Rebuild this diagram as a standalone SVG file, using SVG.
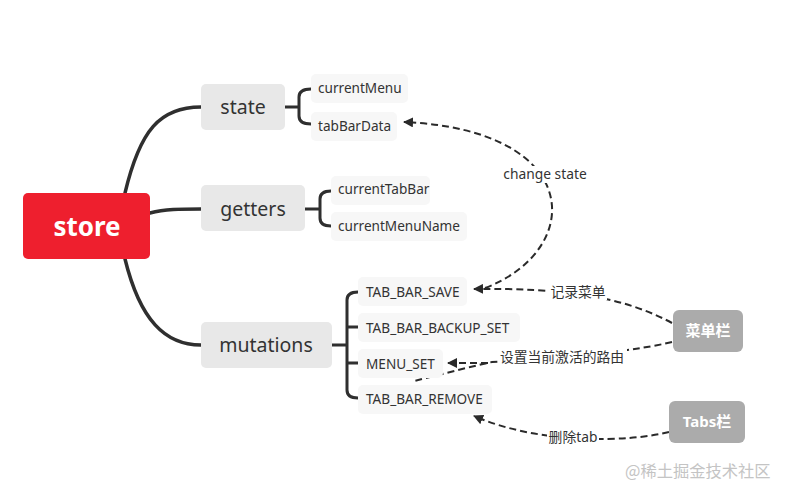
<svg xmlns="http://www.w3.org/2000/svg" width="787" height="496" viewBox="0 0 787 496">
<style>
.main{fill:#ee1f2e}
.topic{fill:#e8e8e8}
.leaf{fill:#f7f7f7}
.side{fill:#ababab}
.branch{fill:none;stroke:#2f2f2f;stroke-width:3.5;stroke-linecap:round}
.brk{fill:none;stroke:#2f2f2f;stroke-width:3;stroke-linecap:round;stroke-linejoin:round}
.rel{fill:none;stroke:#2a2a2a;stroke-width:2;stroke-dasharray:7 4}
.t-main{font-family:"Noto Sans","Open Sans",sans-serif;font-size:26px;font-weight:bold;fill:#fff;text-anchor:middle}
.t-topic{font-family:"Noto Sans","Open Sans",sans-serif;font-size:19.5px;fill:#333;text-anchor:middle}
.t-leaf{font-family:"Noto Sans","Open Sans",sans-serif;font-size:13.6px;fill:#333}
.t-side{font-family:"Noto Sans","Noto Sans CJK SC",sans-serif;font-size:15px;font-weight:bold;fill:#fff;text-anchor:middle}
.t-rel{font-family:"Noto Sans","Noto Sans CJK SC",sans-serif;font-size:13.8px;fill:#333;text-anchor:middle}
.lbg{fill:#fff}
.wm{font-family:"Noto Sans CJK SC",sans-serif;font-size:16.3px;fill:#c4c4c4}
</style>
<defs>
<marker id="arr" viewBox="0 0 10 10" refX="9" refY="5" markerWidth="5" markerHeight="5" orient="auto-start-reverse" markerUnits="strokeWidth">
<path d="M0,0 L10,5 L0,10 z" fill="#2a2a2a"/>
</marker>
</defs>

<g id="connectors">
<path class="branch" d="M125,193 C140,130 160,107 201,107"/>
<path class="branch" d="M150,213 C165,209 180,209 201,209"/>
<path class="branch" d="M125,259 C140,320 165,345 201,345"/>
<path class="brk" d="M285,107 H299 M311,89 Q299,89 299,97 V116 Q299,124 311,124"/>
<path class="brk" d="M305,209 H320 M331,191 Q320,191 320,199 V218 Q320,226 331,226"/>
<path class="brk" d="M332,345 H347 M358,292 Q347,292 347,300 V390 Q347,398 358,398 M347,327 H358 M347,363 H358"/>
<path class="rel" d="M485,288 C585,250 585,130 404,122" marker-end="url(#arr)"/>
<path class="rel" d="M672,323 C620,295 560,288 474,289" marker-end="url(#arr)"/>
<path class="rel" d="M672,342 C640,350 570,358 492,362 C465,368 435,376 414,381"/>
<path class="rel" d="M488,363 L448,363" marker-end="url(#arr)"/>
<path class="rel" d="M669,432 C630,442 540,445 474,416" marker-end="url(#arr)"/>
<rect class="lbg" x="501" y="166" width="88" height="17"/>
<text class="t-rel" x="545" y="179">change state</text>
<rect class="lbg" x="549" y="284" width="58" height="16"/>
<text class="t-rel" x="578" y="297">记录菜单</text>
<rect class="lbg" x="498" y="349" width="129" height="16"/>
<text class="t-rel" x="562" y="362">设置当前激活的路由</text>
<rect class="lbg" x="547" y="429" width="52" height="16"/>
<text class="t-rel" x="573" y="442">删除tab</text>
</g>

<g id="store"><rect class="main" x="23" y="193" width="127" height="66" rx="5"/><text class="t-main" x="87" y="236">store</text></g>
<g id="state"><rect class="topic" x="201" y="84" width="84" height="46" rx="5"/><text class="t-topic" x="243" y="114">state</text></g>
<g id="getters"><rect class="topic" x="201" y="185" width="104" height="46" rx="5"/><text class="t-topic" x="253" y="216">getters</text></g>
<g id="mutations"><rect class="topic" x="201" y="322" width="131" height="46" rx="5"/><text class="t-topic" x="266" y="352">mutations</text></g>

<g id="currentMenu"><rect class="leaf" x="311" y="74" width="97" height="29" rx="5"/><text class="t-leaf" x="318" y="93">currentMenu</text></g>
<g id="tabBarData"><rect class="leaf" x="311" y="112" width="86" height="29" rx="5"/><text class="t-leaf" x="318" y="131">tabBarData</text></g>
<g id="currentTabBar"><rect class="leaf" x="331" y="176" width="99" height="29" rx="5"/><text class="t-leaf" x="338" y="194">currentTabBar</text></g>
<g id="currentMenuName"><rect class="leaf" x="331" y="212" width="136" height="29" rx="5"/><text class="t-leaf" x="338" y="231">currentMenuName</text></g>
<g id="TAB_BAR_SAVE"><rect class="leaf" x="358" y="277" width="109" height="29" rx="5"/><text class="t-leaf" x="366" y="297">TAB_BAR_SAVE</text></g>
<g id="TAB_BAR_BACKUP_SET"><rect class="leaf" x="358" y="313" width="162" height="29" rx="5"/><text class="t-leaf" x="366" y="333">TAB_BAR_BACKUP_SET</text></g>
<g id="MENU_SET"><rect class="leaf" x="358" y="349" width="85" height="29" rx="5"/><text class="t-leaf" x="366" y="369">MENU_SET</text></g>
<g id="TAB_BAR_REMOVE"><rect class="leaf" x="358" y="385" width="134" height="29" rx="5"/><text class="t-leaf" x="366" y="404">TAB_BAR_REMOVE</text></g>

<g id="menubar"><rect class="side" x="673" y="310" width="70" height="42" rx="6"/><text class="t-side" x="708" y="336">菜单栏</text></g>
<g id="tabsbar"><rect class="side" x="669" y="401" width="76" height="42" rx="6"/><text class="t-side" x="707" y="427">Tabs栏</text></g>

<text class="wm" x="625" y="477">@稀土掘金技术社区</text>
</svg>
